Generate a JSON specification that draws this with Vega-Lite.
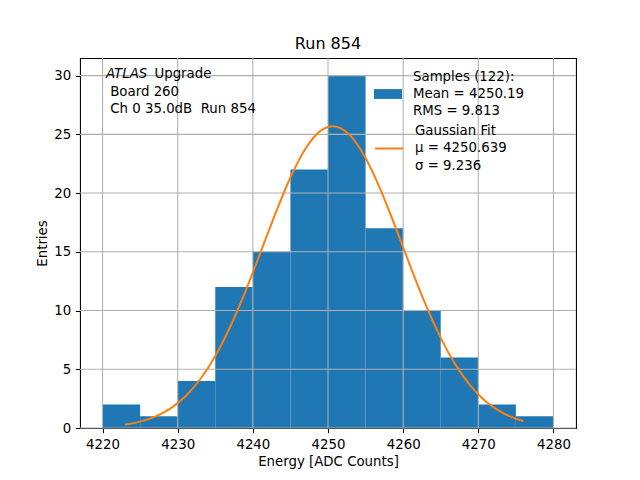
{
  "$schema": "https://vega.github.io/schema/vega-lite/v6.json",
  "width": 496,
  "height": 370,
  "autosize": "none",
  "padding": {"left": 80, "top": 58, "right": 64, "bottom": 52},
  "background": "white",
  "title": {"text": "Run 854", "fontSize": 16, "font": "DejaVu Sans", "fontWeight": "normal", "color": "black", "baseline": "alphabetic", "offset": 8, "dy": 16, "frame": "group"},
  "config": {
    "view": {"stroke": "black", "strokeWidth": 1.07},
    "font": "DejaVu Sans",
    "axis": {"grid": false, "domain": false, "labelFont": "DejaVu Sans", "titleFont": "DejaVu Sans", "labelFontSize": 13.33, "titleFontSize": 13.33, "labelColor": "black", "titleColor": "black", "titleFontWeight": "normal", "tickColor": "black", "tickSize": 4.67, "tickWidth": 1.07, "labelPadding": 4.67}
  },
  "datasets": {
    "hist": [
      {"lo": 4220, "hi": 4225, "n": 2, "s": "Samples"},
      {"lo": 4225, "hi": 4230, "n": 1, "s": "Samples"},
      {"lo": 4230, "hi": 4235, "n": 4, "s": "Samples"},
      {"lo": 4235, "hi": 4240, "n": 12, "s": "Samples"},
      {"lo": 4240, "hi": 4245, "n": 15, "s": "Samples"},
      {"lo": 4245, "hi": 4250, "n": 22, "s": "Samples"},
      {"lo": 4250, "hi": 4255, "n": 30, "s": "Samples"},
      {"lo": 4255, "hi": 4260, "n": 17, "s": "Samples"},
      {"lo": 4260, "hi": 4265, "n": 10, "s": "Samples"},
      {"lo": 4265, "hi": 4270, "n": 6, "s": "Samples"},
      {"lo": 4270, "hi": 4275, "n": 2, "s": "Samples"},
      {"lo": 4275, "hi": 4280, "n": 1, "s": "Samples"}
    ],
    "fit": [
      {"x": 4223, "g": 0.292, "s": "Gaussian"},
      {"x": 4225, "g": 0.545, "s": "Gaussian"},
      {"x": 4227, "g": 0.972, "s": "Gaussian"},
      {"x": 4229, "g": 1.652, "s": "Gaussian"},
      {"x": 4231, "g": 2.681, "s": "Gaussian"},
      {"x": 4233, "g": 4.148, "s": "Gaussian"},
      {"x": 4235, "g": 6.128, "s": "Gaussian"},
      {"x": 4237, "g": 8.638, "s": "Gaussian"},
      {"x": 4239, "g": 11.617, "s": "Gaussian"},
      {"x": 4241, "g": 14.908, "s": "Gaussian"},
      {"x": 4243, "g": 18.255, "s": "Gaussian"},
      {"x": 4245, "g": 21.33, "s": "Gaussian"},
      {"x": 4247, "g": 23.781, "s": "Gaussian"},
      {"x": 4249, "g": 25.299, "s": "Gaussian"},
      {"x": 4250.639, "g": 25.7, "s": "Gaussian"},
      {"x": 4253, "g": 24.874, "s": "Gaussian"},
      {"x": 4255, "g": 22.989, "s": "Gaussian"},
      {"x": 4257, "g": 20.274, "s": "Gaussian"},
      {"x": 4259, "g": 17.059, "s": "Gaussian"},
      {"x": 4261, "g": 13.699, "s": "Gaussian"},
      {"x": 4263, "g": 10.495, "s": "Gaussian"},
      {"x": 4265, "g": 7.672, "s": "Gaussian"},
      {"x": 4267, "g": 5.352, "s": "Gaussian"},
      {"x": 4269, "g": 3.563, "s": "Gaussian"},
      {"x": 4271, "g": 2.262, "s": "Gaussian"},
      {"x": 4273, "g": 1.371, "s": "Gaussian"},
      {"x": 4275, "g": 0.793, "s": "Gaussian"},
      {"x": 4276, "g": 0.592, "s": "Gaussian"}
    ],
    "xgrid": [{"v": 4220}, {"v": 4230}, {"v": 4240}, {"v": 4250}, {"v": 4260}, {"v": 4270}, {"v": 4280}],
    "ygrid": [{"v": 0}, {"v": 5}, {"v": 10}, {"v": 15}, {"v": 20}, {"v": 25}, {"v": 30}],
    "one": [{}]
  },
  "layer": [
    {
      "data": {"name": "hist"},
      "mark": {"type": "bar"},
      "encoding": {
        "x": {"field": "lo", "type": "quantitative", "scale": {"domain": [4217, 4283], "nice": false, "zero": false}, "axis": {"title": "Energy [ADC Counts]", "values": [4220, 4230, 4240, 4250, 4260, 4270, 4280], "format": "d"}},
        "x2": {"field": "hi"},
        "y": {"field": "n", "type": "quantitative", "scale": {"domain": [0, 31.5], "nice": false}, "axis": {"title": "Entries", "values": [0, 5, 10, 15, 20, 25, 30]}},
        "y2": {"datum": 0},
        "fill": {"field": "s", "type": "nominal", "scale": {"range": ["#1f77b4"]}, "legend": {
          "orient": "none", "legendX": 294, "legendY": 22, "title": null, "padding": 0,
          "symbolType": "M-1,-0.35H1V0.35H-1Z", "symbolSize": 784, "symbolStrokeWidth": 0,
          "labelFont": "DejaVu Sans", "labelFontSize": 13.33, "labelColor": "black", "labelOffset": 11, "labelLimit": 300,
          "labelExpr": "['Samples (122):', 'Mean = 4250.19', 'RMS = 9.813']",
          "encode": {"labels": {"update": {"lineHeight": {"value": 17.4}, "dy": {"value": -17.4}}}}
        }}
      }
    },
    {
      "data": {"name": "xgrid"},
      "mark": {"type": "rule", "color": "#b0b0b0", "strokeWidth": 1.07},
      "encoding": {"x": {"field": "v", "type": "quantitative"}}
    },
    {
      "data": {"name": "ygrid"},
      "mark": {"type": "rule", "color": "#b0b0b0", "strokeWidth": 1.07},
      "encoding": {"y": {"field": "v", "type": "quantitative"}}
    },
    {
      "data": {"name": "fit"},
      "mark": {"type": "line", "strokeWidth": 2, "interpolate": "monotone"},
      "encoding": {
        "x": {"field": "x", "type": "quantitative"},
        "y": {"field": "g", "type": "quantitative"},
        "stroke": {"field": "s", "type": "nominal", "scale": {"range": ["#ff7f0e"]}, "legend": {
          "orient": "none", "legendX": 294, "legendY": 75.5, "title": null, "padding": 0,
          "symbolType": "stroke", "symbolSize": 784, "symbolStrokeWidth": 2,
          "labelFont": "DejaVu Sans", "labelFontSize": 13.33, "labelColor": "black", "labelOffset": 11, "labelLimit": 300,
          "labelExpr": "['Gaussian Fit', 'μ = 4250.639', 'σ = 9.236']",
          "encode": {"labels": {"update": {"lineHeight": {"value": 17.4}, "dy": {"value": -17.4}}}}
        }}
      }
    },
    {
      "data": {"name": "one"},
      "mark": {"type": "text", "text": "ATLAS", "fontStyle": "italic", "fontSize": 13.33, "font": "DejaVu Sans", "align": "left", "baseline": "middle", "color": "black"},
      "encoding": {"x": {"datum": 4220.45}, "y": {"datum": 30.1}}
    },
    {
      "data": {"name": "one"},
      "mark": {"type": "text", "text": "Upgrade", "fontSize": 13.33, "font": "DejaVu Sans", "align": "left", "baseline": "middle", "color": "black", "dx": 48.5},
      "encoding": {"x": {"datum": 4220.45}, "y": {"datum": 30.1}}
    },
    {
      "data": {"name": "one"},
      "mark": {"type": "text", "text": "Board 260", "fontSize": 13.33, "font": "DejaVu Sans", "align": "left", "baseline": "middle", "color": "black", "dx": 4.3},
      "encoding": {"x": {"datum": 4220.45}, "y": {"datum": 28.6}}
    },
    {
      "data": {"name": "one"},
      "mark": {"type": "text", "text": "Ch 0 35.0dB \u00a0Run 854", "fontSize": 13.33, "font": "DejaVu Sans", "align": "left", "baseline": "middle", "color": "black", "dx": 4.3},
      "encoding": {"x": {"datum": 4220.45}, "y": {"datum": 27.12}}
    }
  ]
}
